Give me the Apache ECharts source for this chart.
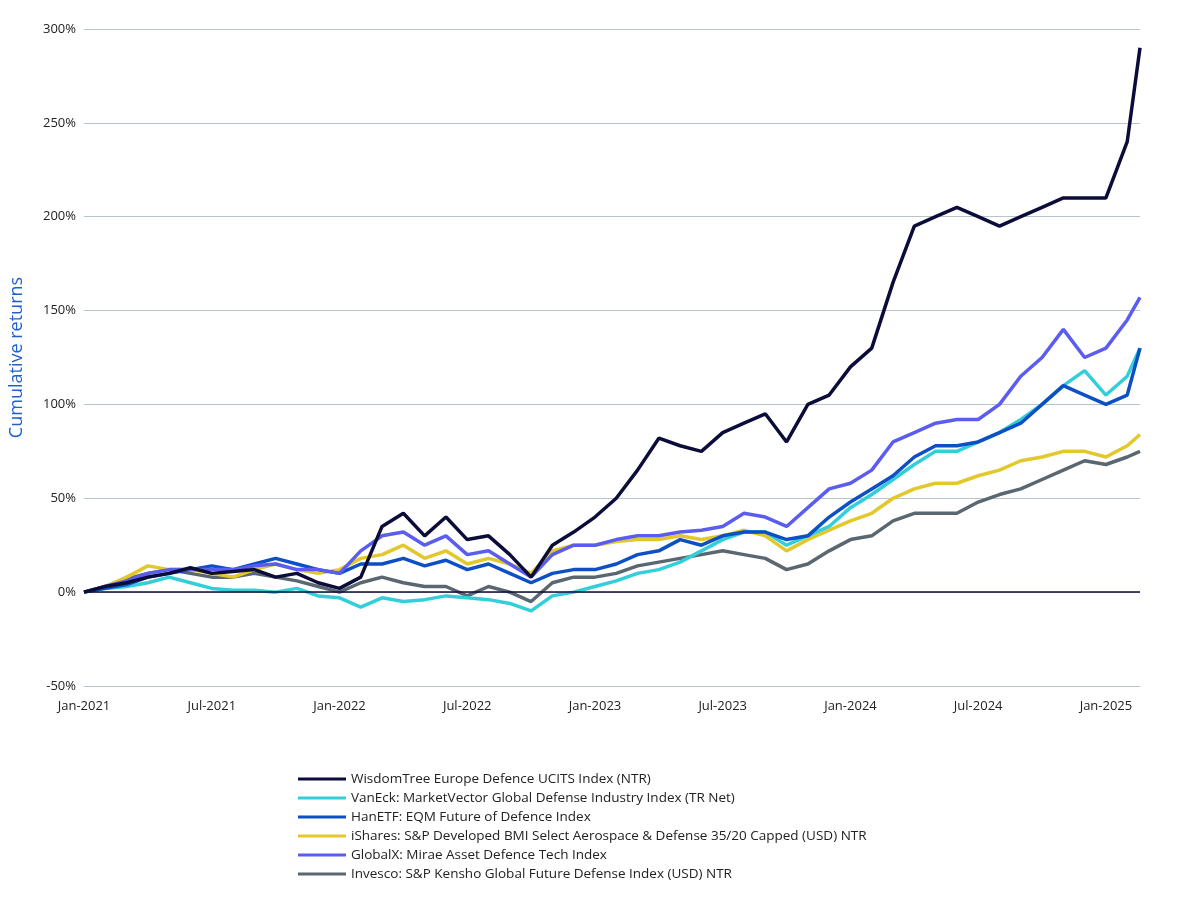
<!DOCTYPE html>
<html lang="en">
  <head>
    <meta charset="UTF-8" />
    <title>Cumulative returns</title>
    <style>
      html, body { margin: 0; padding: 0; background: #fff; }
      #main { width: 1200px; height: 899px; }
    </style>
  </head>
  <body>
    <div id="main"></div>
    <script src="https://cdn.jsdelivr.net/npm/echarts@6/dist/echarts.min.js"></script>
    <script>
      // months since Jan-2021
      const months = [0,1,2,3,4,5,6,7,8,9,10,11,12,13,14,15,16,17,18,19,20,21,22,23,24,25,26,27,28,29,30,31,32,33,34,35,36,37,38,39,40,41,42,43,44,45,46,47,48,49,49.6];
      const monthNames = ["Jan","Feb","Mar","Apr","May","Jun","Jul","Aug","Sep","Oct","Nov","Dec"];

      const wisdomTree = [0,3,5,8,10,13,10,11,12,8,10,5,2,8,35,42,30,40,28,30,20,8,25,32,40,50,65,82,78,75,85,90,95,80,100,105,120,130,165,195,200,205,200,195,200,205,210,210,210,240,290];
      const vanEck = [0,2,3,5,8,5,2,1,1,0,2,-2,-3,-8,-3,-5,-4,-2,-3,-4,-6,-10,-2,0,3,6,10,12,16,22,28,32,32,25,30,35,45,52,60,68,75,75,80,85,92,100,110,118,105,115,130];
      const hanEtf = [0,2,4,8,10,12,14,12,15,18,15,12,10,15,15,18,14,17,12,15,10,5,10,12,12,15,20,22,28,25,30,32,32,28,30,40,48,55,62,72,78,78,80,85,90,100,110,105,100,105,130];
      const iShares = [0,3,8,14,12,12,10,8,12,15,12,10,12,18,20,25,18,22,15,18,15,10,22,25,25,27,28,28,30,28,30,33,30,22,28,33,38,42,50,55,58,58,62,65,70,72,75,75,72,78,84];
      const globalX = [0,3,6,10,12,12,12,12,14,15,12,12,10,22,30,32,25,30,20,22,15,8,20,25,25,28,30,30,32,33,35,42,40,35,45,55,58,65,80,85,90,92,92,100,115,125,140,125,130,145,157];
      const invesco = [0,3,7,10,12,10,8,8,10,8,6,3,0,5,8,5,3,3,-2,3,0,-5,5,8,8,10,14,16,18,20,22,20,18,12,15,22,28,30,38,42,42,42,48,52,55,60,65,70,68,72,75];

      const seriesDefs = [
        ["WisdomTree Europe Defence UCITS Index (NTR)", wisdomTree, "#0c0c3a"],
        ["VanEck: MarketVector Global Defense Industry Index (TR Net)", vanEck, "#33cfd8"],
        ["HanETF: EQM Future of Defence Index", hanEtf, "#0d4fc4"],
        ["iShares: S&P Developed BMI Select Aerospace & Defense 35/20 Capped (USD) NTR", iShares, "#e2c82a"],
        ["GlobalX: Mirae Asset Defence Tech Index", globalX, "#5b5cf0"],
        ["Invesco: S&P Kensho Global Future Defense Index (USD) NTR", invesco, "#5b6770"],
      ];
      // draw order: lowest lines under, WisdomTree on top
      const drawOrder = [5, 3, 1, 2, 4, 0];

      const myChart = echarts.init(document.getElementById("main"));
      const series = drawOrder.map(function (i) {
        const d = seriesDefs[i];
        return {
          name: d[0],
          type: "line",
          showSymbol: false,
          smooth: false,
          lineStyle: { width: 3.5, color: d[2] },
          itemStyle: { color: d[2] },
          data: months.map(function (m, k) { return [m, d[1][k]]; }),
        };
      });
      series.push({
        type: "line",
        data: [],
        markLine: {
          silent: true,
          symbol: "none",
          label: { show: false },
          lineStyle: { color: "#0c0c3a", width: 1.5, type: "solid" },
          data: [{ yAxis: 0 }],
        },
      });

      const option = {
        animation: false,
        textStyle: { fontFamily: "Open Sans" },
        grid: { left: 78, right: 60, top: 29, bottom: 213 },
        legend: {
          orient: "vertical",
          left: 293,
          top: 767,
          itemWidth: 48,
          itemHeight: 3,
          itemGap: 5,
          icon: "rect",
          textStyle: { fontSize: 13.5, color: "#222" },
          data: seriesDefs.map(function (d) { return d[0]; }),
        },
        xAxis: {
          type: "value",
          min: 0,
          max: 49.6,
          interval: 6,
          axisLine: { show: false },
          axisTick: { show: false },
          splitLine: { show: false },
          axisLabel: {
            color: "#222",
            fontSize: 13,
            margin: 14,
            showMaxLabel: false,
            formatter: function (v) {
              return monthNames[v % 12] + "-" + (2021 + Math.floor(v / 12));
            },
          },
        },
        yAxis: {
          type: "value",
          min: -50,
          max: 300,
          interval: 50,
          name: "Cumulative returns",
          nameLocation: "middle",
          nameGap: 58,
          nameTextStyle: { color: "#1f5fd0", fontSize: 18 },
          axisLine: { show: false },
          axisTick: { show: false },
          axisLabel: { color: "#222", fontSize: 13, formatter: "{value}%" },
          splitLine: { lineStyle: { color: "#b8c4cc", width: 1 } },
        },
        series: series,
      };
      myChart.setOption(option);
    </script>
  </body>
</html>
